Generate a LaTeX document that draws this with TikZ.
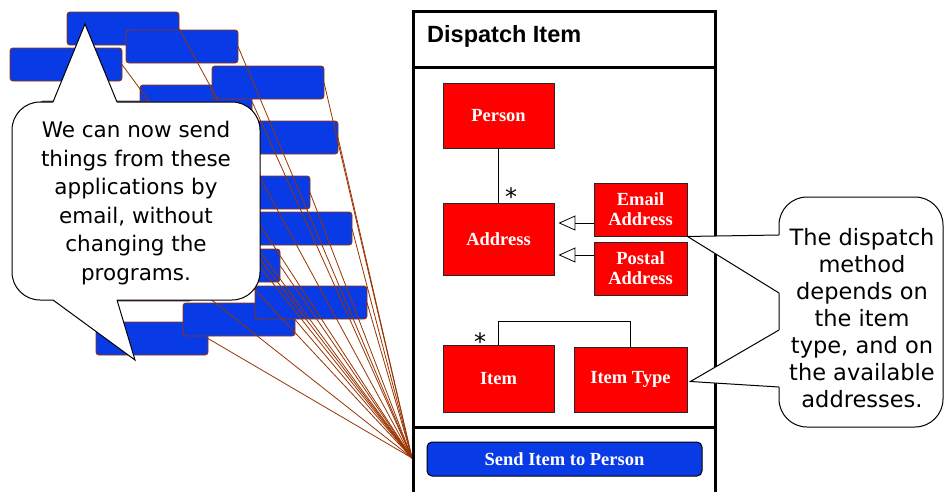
\documentclass[tikz,border=0pt]{standalone}
\usepackage{fontspec}
\setmainfont{Liberation Serif}
\newfontfamily\notefont{DejaVu Sans}
\newfontfamily\headfont{Liberation Sans}
\usetikzlibrary{arrows.meta}

\definecolor{appblue}{RGB}{8,59,230}
\definecolor{appedge}{RGB}{153,51,0}

\tikzset{
  app/.style={draw=appedge,fill=appblue,rounded corners=3pt,line width=0.9pt,anchor=north west,
    minimum width=112pt,minimum height=33pt,inner sep=0,outer sep=0},
  feed/.style={draw=appedge,line width=0.8pt},
  cls/.style={draw=black!85,fill=red,text=white,line width=0.9pt,inner sep=0,align=center,
    font=\fontsize{18.5}{20}\selectfont\bfseries},
  send/.style={draw=black,fill=appblue,text=white,rounded corners=5pt,line width=1pt,inner sep=0,
    minimum width=275pt,minimum height=34pt,font=\fontsize{18.5}{20}\selectfont\bfseries},
  note/.style={draw=black,fill=white,line width=1pt,rounded corners=28pt,inner sep=0},
  notetext/.style={align=center,inner sep=0},
  frame/.style={line width=3pt},
  assoc/.style={line width=0.8pt},
  gen/.style={-{Triangle[open,length=17pt,width=15pt]},line width=0.8pt,shorten >=4pt},
  mult/.style={font=\notefont\fontsize{24}{24}\selectfont,anchor=base,inner sep=0},
}

\begin{document}
\begin{tikzpicture}[x=1pt,y=-1pt]
\useasboundingbox (0,0) rectangle (945,491);
\coordinate (hub) at (412,458);

% the applications
\foreach \n/\x/\y in {1/67/12,2/126/30,3/10/48,4/140/85,5/212/66,6/40/101,7/226/121,8/110/150,
  9/198/176,10/70/195,11/240/212,12/130/228,13/168/249,14/80/268,15/96/322,16/183/303,17/255/286}
  \node[app] (app\n) at (\x,\y) {};
\foreach \n in {1,...,17}
  \draw[feed] (app\n.east) -- (hub);

% left callout
\node[note,minimum width=248pt,minimum height=198pt] (lnote) at (136,201) {};
\coordinate (ltip) at (85,24);
\coordinate (btip) at (135,360);
\fill[white] (53,102) -- (ltip) -- (117,102) -- (117,106) -- (53,106) -- cycle;
\draw[line width=1pt] (53,102) -- (ltip) -- (117,102);
\fill[white] (53,300) -- (btip) -- (117,300) -- (117,296) -- (53,296) -- cycle;
\draw[line width=1pt] (53,300) -- (btip) -- (117,300);
\node[notetext,font=\notefont\fontsize{21.5}{28.6}\selectfont] (ltext) at (136,203)
  {We can now send\\things from these\\applications by\\email, without\\changing the\\programs.};

% the dispatch item
\draw[frame] (413,11) rectangle (715,500);
\draw[frame] (413,67) -- (715,67);
\draw[frame] (413,427) -- (715,427);
\node[anchor=base west,inner sep=0,font=\headfont\bfseries\fontsize{23.5}{26}\selectfont] (title) at (427,42) {Dispatch Item};

\node[cls,minimum width=111pt,minimum height=65pt] (person) at (498.5,115.5) {Person};
\node[cls,minimum width=111pt,minimum height=72pt] (address) at (498.5,239) {Address};
\node[cls,minimum width=93pt,minimum height=53pt] (email) at (640.5,209.5) {Email\\Address};
\node[cls,minimum width=93pt,minimum height=53pt] (postal) at (640.5,268.5) {Postal\\Address};
\node[cls,minimum width=111pt,minimum height=67pt] (item) at (498.5,378.5) {Item};
\node[cls,minimum width=113pt,minimum height=65pt] (itype) at (630.5,379.5) {Item Type};
\node[send] (sendbtn) at (564.5,459) {Send Item to Person};

\draw[assoc] (person) -- (address);
\node[mult] (m1) at (511,205) {*};
\draw[assoc] (item.north) -- ++(0,-23) -| (itype.north);
\node[mult] (m2) at (480,350) {*};
\coordinate (g1) at ([yshift=16pt]address.east);
\coordinate (g2) at ([yshift=-16pt]address.east);
\draw[gen] (g1 -| email.west) -- (g1);
\draw[gen] (g2 -| postal.west) -- (g2);

% right callout
\node[note,minimum width=164pt,minimum height=230pt] (rnote) at (861,312) {};
\coordinate (etip) at (email.south east);
\coordinate (ttip) at ([xshift=3pt,yshift=-2pt]itype.east);
\fill[white] (779,235) -- (etip) -- (779,293) -- (783,293) -- (783,235) -- cycle;
\draw[line width=1pt] (779,235) -- (etip) -- (779,293);
\fill[white] (779,330) -- (ttip) -- (779,387) -- (783,387) -- (783,330) -- cycle;
\draw[line width=1pt] (779,330) -- (ttip) -- (779,387);
\node[notetext,font=\notefont\fontsize{22.5}{27}\selectfont] (rtext) at (862,318)
  {The dispatch\\method\\depends on\\the item\\type, and on\\the available\\addresses.};
\end{tikzpicture}
\end{document}
